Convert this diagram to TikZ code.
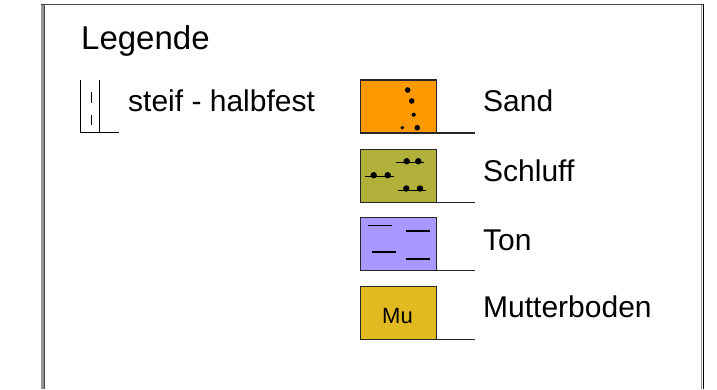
\documentclass[tikz,border=0pt]{standalone}
\usepackage{fontspec}
\setmainfont{Liberation Sans}
\definecolor{sandc}{RGB}{255,153,0}
\definecolor{schluffc}{RGB}{176,176,58}
\definecolor{tonc}{RGB}{168,152,255}
\definecolor{muc}{RGB}{224,186,32}
\definecolor{framegrey}{RGB}{150,150,150}
\definecolor{framedark}{RGB}{70,70,70}
\begin{document}
\begin{tikzpicture}[x=1pt,y=-1pt,
  soilbox/.style={draw=black!85, line width=1.3pt, minimum width=76pt, minimum height=53pt,
    inner sep=0pt, outer sep=0pt, anchor=north west},
  baseline rule/.style={draw=black!85, line width=1.3pt},
  label/.style={anchor=base west, inner sep=0pt, font=\fontsize{30}{32}\selectfont},
  stroke/.style={line width=1.4pt, black},
  grain/.style={fill=black}]
\useasboundingbox (0,0) rectangle (717,389);

% window frame
\fill[framegrey] (41,4) rectangle (44,389);
\draw[framedark, line width=1pt] (44.5,5) -- (44.5,389);
\draw[framedark, line width=1.2pt] (41,4.5) -- (704,4.5);
\draw[framegrey, line width=1pt] (701.5,5) -- (701.5,389);
\draw[black, line width=1.2pt] (703.6,4) -- (703.6,389);

% title
\node[anchor=base west, inner sep=0pt, font=\fontsize{33}{35}\selectfont] (title) at (81,49) {Legende};

% consistency symbol: steif - halbfest
\coordinate (cTL) at (80.7,80);
\coordinate (cBL) at (80.7,132.7);
\coordinate (cTR) at (99.3,80);
\coordinate (cBR) at (99.3,132.7);
\coordinate (cEnd) at (118.7,132.7);
\draw[stroke] (cTL) -- (cBL) -- (cEnd);
\draw[stroke] (cTR) -- (cBR);
\draw[stroke] (91.7,92.3) -- (91.7,103.3);
\draw[stroke] (91.7,115) -- (91.7,125);
\node[label] (steif) at (128,111) {steif - halbfest};

% Sand
\node[soilbox, fill=sandc] (sand) at (360.7,80) {};
\coordinate (sandEnd) at (475,133);
\draw[baseline rule] (sand.south east) -- (sandEnd);
\fill[grain] (407.7,90) circle (2.8);
\fill[grain] (411.7,101) circle (2.8);
\fill[grain] (413.7,114.7) circle (2.1);
\fill[grain] (402.3,127.7) circle (1.9);
\fill[grain] (417.3,127.7) circle (2.8);
\node[label] (sandL) at (483,111.5) {Sand};

% Schluff
\node[soilbox, fill=schluffc] (schluff) at (360.7,149.5) {};
\coordinate (schluffEnd) at (475,202.5);
\draw[baseline rule] (schluff.south east) -- (schluffEnd);
\foreach \xa/\xb/\ya/\da/\db in {395.7/424/162.7/406.7/418.3, 365/394.3/176.7/373.7/387.7, 397.7/426/190/406.3/420}{
  \draw[line width=1pt] (\xa,\ya) -- (\xb,\ya);
  \fill[grain] (\da,\ya-1.5) circle (3.2);
  \fill[grain] (\db,\ya-1.5) circle (3.2);
}
\node[label] (schluffL) at (483,181.5) {Schluff};

% Ton
\node[soilbox, fill=tonc] (ton) at (360.7,217.5) {};
\coordinate (tonEnd) at (475,270.5);
\draw[baseline rule] (ton.south east) -- (tonEnd);
\draw[stroke] (368.3,225.7) -- (391.7,225.7);
\draw[stroke] (406,231) -- (430,231);
\draw[stroke] (372,252) -- (395.7,252);
\draw[stroke] (406,259) -- (430,259);
\node[label] (tonL) at (483,250.5) {Ton};

% Mutterboden
\node[soilbox, fill=muc] (mu) at (360.7,286.5) {};
\node[anchor=base, inner sep=0pt, font=\fontsize{22}{24}\selectfont] (muT) at (397.5,323.5) {Mu};
\coordinate (muEnd) at (475,339.5);
\draw[baseline rule] (mu.south east) -- (muEnd);
\node[label] (muL) at (483,317.5) {Mutterboden};
\end{tikzpicture}
\end{document}
